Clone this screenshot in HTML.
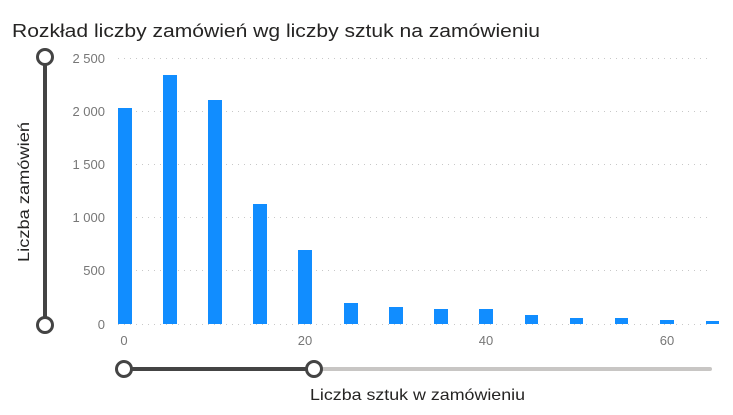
<!DOCTYPE html><html><head><meta charset="utf-8"><style>body{margin:0;background:#fff;}svg{display:block;font-family:"Liberation Sans",sans-serif}</style></head><body>
<svg width="733" height="415" viewBox="0 0 733 415">
<text x="12" y="37" font-size="18" fill="#252423" textLength="528" lengthAdjust="spacingAndGlyphs">Rozkład liczby zamówień wg liczby sztuk na zamówieniu</text>
<g stroke="#c8c8c8" stroke-width="1" stroke-dasharray="1,5">
<line x1="118" y1="58.5" x2="712" y2="58.5"/><line x1="118" y1="111.5" x2="712" y2="111.5"/><line x1="118" y1="164.5" x2="712" y2="164.5"/><line x1="118" y1="217.5" x2="712" y2="217.5"/><line x1="118" y1="270.5" x2="712" y2="270.5"/><line x1="118" y1="324.5" x2="712" y2="324.5"/></g>
<g font-size="13" fill="#777" text-anchor="end">
<text x="105" y="63">2 500</text><text x="105" y="116">2 000</text><text x="105" y="169">1 500</text><text x="105" y="222">1 000</text><text x="105" y="275">500</text><text x="105" y="329">0</text></g>
<g font-size="13" fill="#777" text-anchor="middle">
<text x="124" y="345">0</text><text x="305" y="345">20</text><text x="486" y="345">40</text><text x="667" y="345">60</text></g>
<g fill="#118DFF">
<rect x="118" y="108" width="14" height="216"/><rect x="163" y="75" width="14" height="249"/><rect x="208" y="100" width="14" height="224"/><rect x="253" y="204" width="14" height="120"/><rect x="298" y="250" width="14" height="74"/><rect x="344" y="303" width="14" height="21"/><rect x="389" y="307" width="14" height="17"/><rect x="434" y="309" width="14" height="15"/><rect x="479" y="309" width="14" height="15"/><rect x="525" y="315" width="13" height="9"/><rect x="570" y="318" width="13" height="6"/><rect x="615" y="318" width="13" height="6"/><rect x="660" y="320" width="14" height="4"/><rect x="706" y="321" width="13" height="3"/></g>
<text transform="translate(29,262) rotate(-90)" font-size="16" fill="#252423" textLength="140" lengthAdjust="spacingAndGlyphs">Liczba zamówień</text>
<line x1="45" y1="57" x2="45" y2="325" stroke="#444" stroke-width="4"/>
<circle cx="45" cy="57" r="7.5" fill="#fff" stroke="#444" stroke-width="3"/>
<circle cx="45" cy="325" r="7.5" fill="#fff" stroke="#444" stroke-width="3"/>
<line x1="315" y1="369" x2="710" y2="369" stroke="#c8c6c4" stroke-width="4" stroke-linecap="round"/>
<line x1="124" y1="369" x2="315" y2="369" stroke="#444" stroke-width="4"/>
<circle cx="124" cy="369" r="7.5" fill="#fff" stroke="#444" stroke-width="3"/>
<circle cx="314" cy="369" r="7.5" fill="#fff" stroke="#444" stroke-width="3"/>
<text x="310" y="400" font-size="16" fill="#252423" textLength="215" lengthAdjust="spacingAndGlyphs">Liczba sztuk w zamówieniu</text>
</svg></body></html>
